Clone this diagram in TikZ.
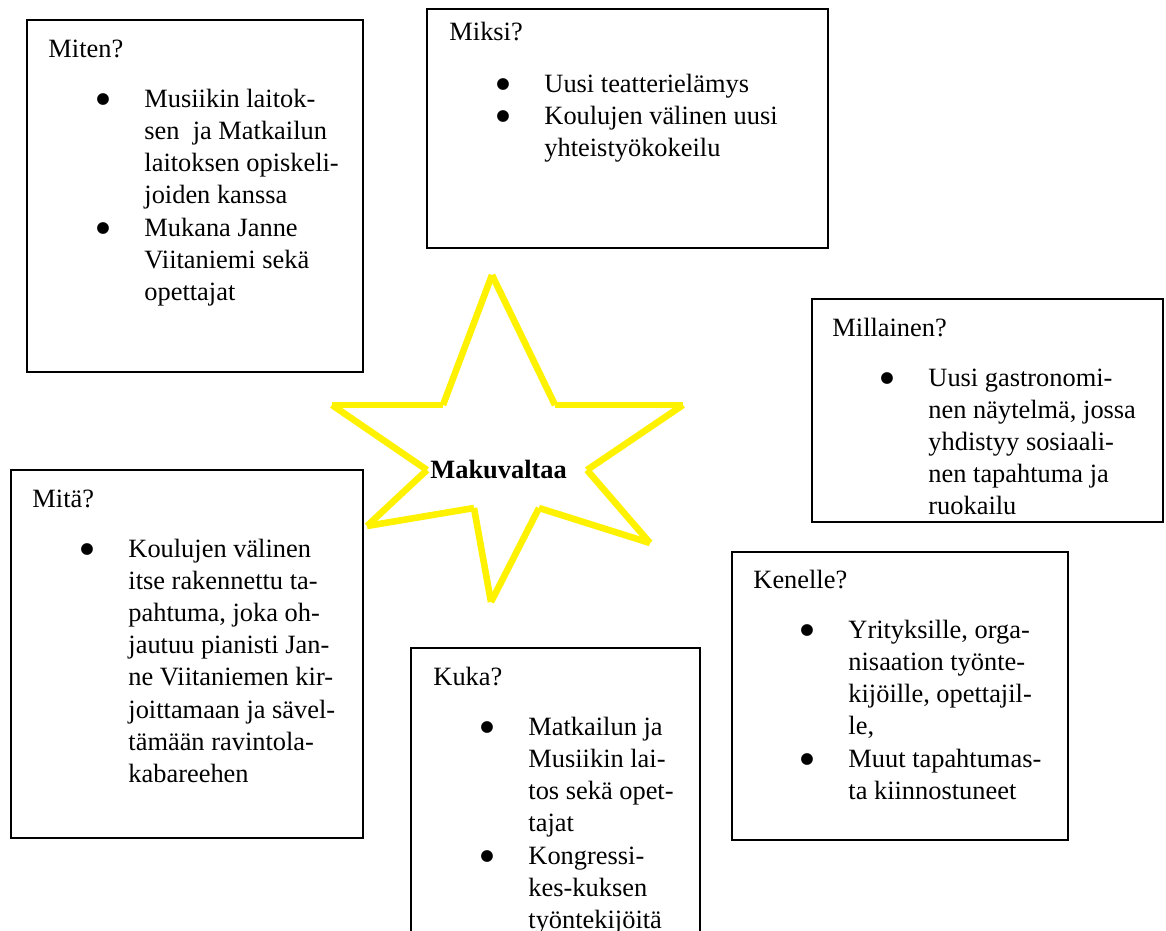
\documentclass[tikz,border=0pt]{standalone}
\usepackage{fontspec}
\setmainfont{Liberation Serif}
\newfontfamily\symfont{DejaVu Sans}
\usetikzlibrary{fit}
\newcommand\lns[1]{\begin{tabular}[t]{@{}l@{}}#1\end{tabular}}
\newcommand\bigbul{\raisebox{1.5pt}{\symfont\fontsize{7}{7}\selectfont ●}}
\begin{document}
\begin{tikzpicture}[x=0.4545pt,y=-0.4545pt,
  box/.style={draw, line width=0.8pt, inner sep=0pt},
  txt/.style={anchor=base west, inner sep=0pt, font=\fontsize{12}{14.64}\selectfont},
  bul/.style={anchor=base west, inner sep=0pt},
  starline/.style={draw=yellow, line width=3pt}]
\useasboundingbox (0,0) rectangle (1166,931);
\clip (0,0) rectangle (1166,931);

% star
\coordinate (st) at (492,275);
\coordinate (s1) at (443,405);
\coordinate (sl) at (332,405);
\coordinate (s2) at (427,470);
\coordinate (sll) at (367,526);
\coordinate (s3) at (474,508);
\coordinate (sb) at (491,602);
\coordinate (s4) at (539,508);
\coordinate (slr) at (650,543);
\coordinate (s5) at (587,470);
\coordinate (sr) at (683,405);
\coordinate (s6) at (555,405);
\draw[starline] (st) -- (s1);
\draw[starline] (s1) -- (sl);
\draw[starline] (sl) -- (s2);
\draw[starline] (s2) -- (sll);
\draw[starline] (sll) -- (s3);
\draw[starline] (s3) -- (sb);
\draw[starline] (sb) -- (s4);
\draw[starline] (s4) -- (slr);
\draw[starline] (slr) -- (s5);
\draw[starline] (s5) -- (sr);
\draw[starline] (sr) -- (s6);
\draw[starline] (s6) -- (st);
\node[txt, font=\fontsize{12}{14.64}\selectfont\bfseries] (center) at (430,478) {Makuvaltaa};

% Miten
\node[box, fit={(27,20)(363,372)}] (miten) {};
\node[txt] (mitenT) at (48,57) {Miten?};
\node[bul] (mitenB1) at (96,107) {\bigbul};
\node[txt] (mitenL1) at (144,107) {\lns{Musiikin laitok-\\sen~ ja Matkailun\\laitoksen opiskeli-\\joiden kanssa}};
\node[bul] (mitenB2) at (96,236) {\bigbul};
\node[txt] (mitenL2) at (144,236) {\lns{Mukana Janne\\Viitaniemi sekä\\opettajat}};

% Miksi
\node[box, fit={(427,9)(828,248)}] (miksi) {};
\node[txt] (miksiT) at (449,40) {Miksi?};
\node[bul] (miksiB1) at (496,92) {\bigbul};
\node[txt] (miksiL1) at (544,92) {Uusi teatterielämys};
\node[bul] (miksiB2) at (496,124) {\bigbul};
\node[txt] (miksiL2) at (544,124) {\lns{Koulujen välinen uusi\\yhteistyökokeilu}};

% Millainen
\node[box, fit={(812,299)(1163,522)}] (millainen) {};
\node[txt] (millT) at (832,336) {Millainen?};
\node[bul] (millB1) at (880,386) {\bigbul};
\node[txt] (millL1) at (928,386) {\lns{Uusi gastronomi-\\nen näytelmä, jossa\\yhdistyy sosiaali-\\nen tapahtuma ja\\ruokailu}};

% Mita
\node[box, fit={(11,470)(363,838)}] (mita) {};
\node[txt] (mitaT) at (32,507) {Mitä?};
\node[bul] (mitaB1) at (80,557) {\bigbul};
\node[txt] (mitaL1) at (128,557) {\lns{Koulujen välinen\\itse rakennettu ta-\\pahtuma, joka oh-\\jautuu pianisti Jan-\\ne Viitaniemen kir-\\joittamaan ja sävel-\\tämään ravintola-\\kabareehen}};

% Kenelle
\node[box, fit={(732,552)(1068,840)}] (kenelle) {};
\node[txt] (kenT) at (753,588) {Kenelle?};
\node[bul] (kenB1) at (800,638) {\bigbul};
\node[txt] (kenL1) at (848,638) {\lns{Yrityksille, orga-\\nisaation työnte-\\kijöille, opettajil-\\le,}};
\node[bul] (kenB2) at (800,767) {\bigbul};
\node[txt] (kenL2) at (848,767) {\lns{Muut tapahtumas-\\ta kiinnostuneet}};

% Kuka
\node[box, fit={(411,648)(700,960)}] (kuka) {};
\node[txt] (kukaT) at (433,685) {Kuka?};
\node[bul] (kukaB1) at (480,735) {\bigbul};
\node[txt] (kukaL1) at (528,735) {\lns{Matkailun ja\\Musiikin lai-\\tos sekä opet-\\tajat}};
\node[bul] (kukaB2) at (480,864) {\bigbul};
\node[txt] (kukaL2) at (528,864) {\lns{Kongressi-\\kes-kuksen\\työntekijöitä}};
\end{tikzpicture}
\end{document}
